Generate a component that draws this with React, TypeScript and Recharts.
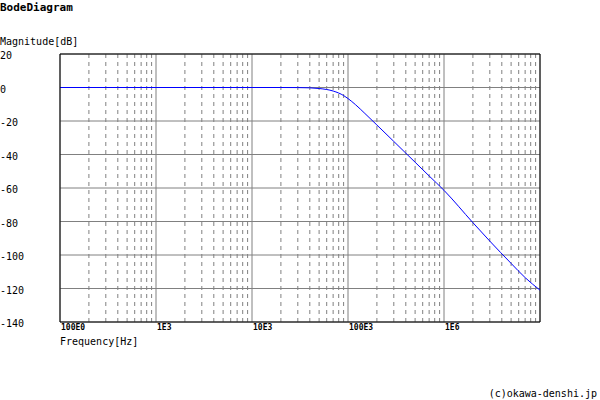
import { LineChart, Line, XAxis, YAxis, CartesianGrid, ReferenceLine } from 'recharts'

// frequency [Hz] and magnitude [dB]
const freqs = [100, 1000, 10000, 20000, 30000, 40000, 50000, 60000, 70000, 80000, 90000, 100000,
  120000, 150000, 200000, 300000, 400000, 500000, 700000, 1000000, 2000000, 3000000, 5000000, 7000000, 10000000]
const magnitude = [0, 0, 0, 0, -0.05, -0.2, -0.6, -1.2, -2.1, -3.3, -4.8, -6.6,
  -10.3, -15.5, -22.4, -32.2, -39.2, -44.6, -52.8, -61.4, -80.7, -91.7, -105, -113.5, -121]

const decadeTicks = [100, 1000, 10000, 100000, 1000000]
const decadeLabels = ['100E0', '1E3', '10E3', '100E3', '1E6']
const minorTicks = [100, 1000, 10000, 100000, 1000000].flatMap(d => [2, 3, 4, 5, 6, 7, 8, 9].map(m => d * m))
const magTicks = [20, 0, -20, -40, -60, -80, -100, -120, -140]

const data = freqs.map((f, i) => ({ f, mag: magnitude[i] }))

const MONO = '"DejaVu Sans Mono", monospace'
const GRID = '#808080'

function XTick({ x, payload }: any) {
  const i = decadeTicks.indexOf(payload.value)
  return (
    <text x={x + 1} y={330} fontFamily={MONO} fontSize={8} fontWeight="bold" fill="#000" textAnchor="start">
      {decadeLabels[i] ?? ''}
    </text>
  )
}

function YTick({ y, payload }: any) {
  return (
    <text x={0} y={y + 5} fontFamily={MONO} fontSize={10} fill="#000" textAnchor="start">
      {payload.value}
    </text>
  )
}

export default function App() {
  return (
    <div style={{ position: 'absolute', left: 0, top: 0, width: 600, height: 400, background: '#fff' }}>
      <LineChart width={600} height={400} data={data} margin={{ top: 54, right: 60, bottom: 0, left: 0 }}>
        <CartesianGrid stroke={GRID} strokeWidth={1} />
        {minorTicks.map(v => (
          <ReferenceLine key={v} x={v} stroke={GRID} strokeDasharray="4 4" />
        ))}
        <XAxis
          dataKey="f" type="number" scale="log" domain={[100, 10000000]}
          ticks={decadeTicks} tick={<XTick />} tickLine={false}
          axisLine={{ stroke: '#000' }} height={78} allowDataOverflow
        />
        <YAxis
          type="number" domain={[-140, 20]} ticks={magTicks} tick={<YTick />}
          tickLine={false} axisLine={{ stroke: '#000' }} width={60} interval={0}
        />
        <ReferenceLine y={20} stroke="#000" />
        <ReferenceLine x={10000000} stroke="#000" />
        <Line
          type="monotone" dataKey="mag" stroke="#0000ff" strokeWidth={1}
          dot={false} isAnimationActive={false}
        />
      </LineChart>
      <svg width={600} height={400} style={{ position: 'absolute', left: 0, top: 0, pointerEvents: 'none' }}>
        <text x={0} y={11} fontFamily={MONO} fontSize={11} fontWeight="bold" fill="#000">BodeDiagram</text>
        <text x={0} y={45} fontFamily={MONO} fontSize={10} fill="#000">Magnitude[dB]</text>
        <text x={60} y={345} fontFamily={MONO} fontSize={10} fill="#000">Frequency[Hz]</text>
        <text x={597} y={397} fontFamily={MONO} fontSize={10} fill="#000" textAnchor="end">(c)okawa-denshi.jp</text>
      </svg>
    </div>
  )
}
